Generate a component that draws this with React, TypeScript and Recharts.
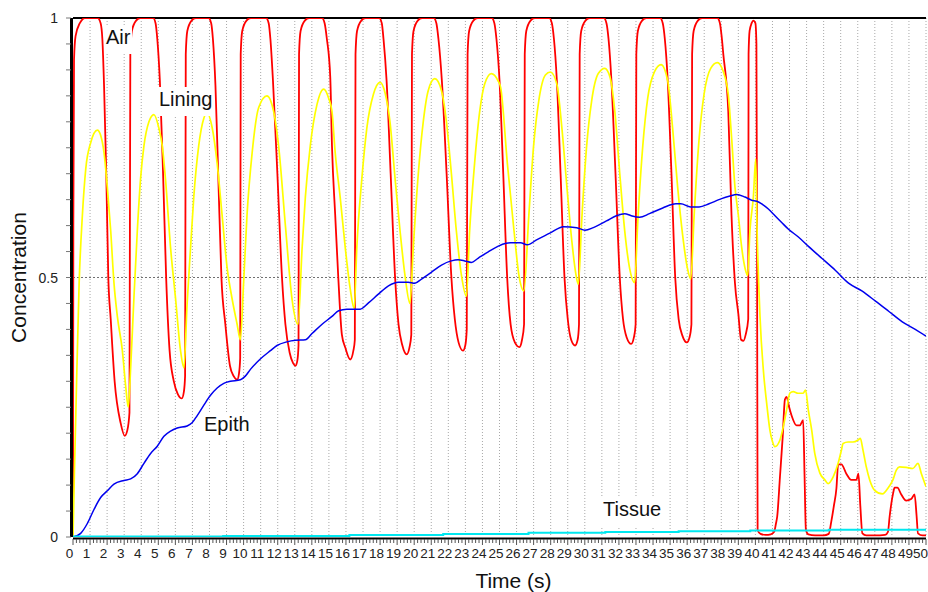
import { LineChart, Line, XAxis, YAxis, CartesianGrid, ReferenceLine } from 'recharts';

// time (s), concentration pairs per compartment
const air: [number, number][] = [
  [0, 0], [0.02, 0.6], [0.06, 0.92], [0.15, 0.965], [0.4, 0.99], [0.7, 1.0], [1.45, 1.0], [1.62, 0.99], [1.72, 0.96], [1.82, 0.87], [1.95, 0.7], [2.07, 0.5], [2.21, 0.42], [2.44, 0.3], [2.79, 0.22], [3.03, 0.195], [3.18, 0.205], [3.31, 0.24],
  [3.36, 0.93], [3.45, 0.975], [3.7, 0.995], [3.95, 1.0], [4.7, 1.0], [4.84, 0.99], [4.94, 0.96], [5.09, 0.88], [5.28, 0.7], [5.46, 0.5], [5.66, 0.36], [5.91, 0.3], [6.15, 0.275], [6.38, 0.267], [6.5, 0.28], [6.57, 0.31],
  [6.61, 0.93], [6.7, 0.975], [6.95, 0.995], [7.2, 1.0], [7.95, 1.0], [8.1, 0.99], [8.2, 0.96], [8.35, 0.87], [8.52, 0.69], [8.7, 0.5], [8.93, 0.41], [9.2, 0.33], [9.42, 0.31], [9.62, 0.303], [9.73, 0.315], [9.8, 0.345],
  [9.83, 0.93], [9.92, 0.975], [10.17, 0.995], [10.42, 1.0], [11.32, 1.0], [11.47, 0.99], [11.57, 0.96], [11.72, 0.88], [11.98, 0.7], [12.25, 0.5], [12.45, 0.41], [12.7, 0.355], [12.9, 0.335], [13.04, 0.33], [13.15, 0.34], [13.22, 0.37],
  [13.25, 0.93], [13.34, 0.975], [13.59, 0.995], [13.84, 1.0], [14.6, 1.0], [14.75, 0.99], [14.88, 0.96], [15.08, 0.886], [15.18, 0.754], [15.37, 0.62], [15.55, 0.5], [15.76, 0.39], [15.96, 0.365], [16.25, 0.342], [16.44, 0.36], [16.52, 0.38],
  [16.56, 0.93], [16.65, 0.975], [16.9, 0.995], [17.15, 1.0], [17.95, 1.0], [18.1, 0.99], [18.2, 0.96], [18.38, 0.88], [18.62, 0.7], [18.88, 0.5], [19.08, 0.41], [19.3, 0.37], [19.56, 0.352], [19.72, 0.365], [19.83, 0.39],
  [19.87, 0.93], [19.96, 0.975], [20.21, 0.995], [20.46, 1.0], [21.15, 1.0], [21.3, 0.99], [21.42, 0.96], [21.62, 0.88], [21.9, 0.7], [22.18, 0.5], [22.38, 0.42], [22.6, 0.375], [22.86, 0.359], [23.0, 0.37], [23.08, 0.4],
  [23.13, 0.93], [23.22, 0.975], [23.47, 0.995], [23.72, 1.0], [24.55, 1.0], [24.7, 0.99], [24.82, 0.96], [25.0, 0.88], [25.22, 0.7], [25.45, 0.5], [25.65, 0.41], [25.9, 0.375], [26.17, 0.366], [26.32, 0.38], [26.44, 0.41],
  [26.48, 0.93], [26.57, 0.975], [26.82, 0.995], [27.07, 1.0], [27.92, 1.0], [28.07, 0.99], [28.19, 0.96], [28.36, 0.88], [28.58, 0.7], [28.81, 0.5], [29.0, 0.42], [29.2, 0.38], [29.43, 0.369], [29.58, 0.38], [29.66, 0.41],
  [29.7, 0.93], [29.79, 0.975], [30.04, 0.995], [30.29, 1.0], [31.12, 1.0], [31.27, 0.99], [31.39, 0.96], [31.56, 0.88], [31.8, 0.7], [32.05, 0.5], [32.24, 0.42], [32.45, 0.385], [32.72, 0.372], [32.88, 0.385], [32.98, 0.41],
  [33.02, 0.93], [33.11, 0.975], [33.36, 0.995], [33.61, 1.0], [34.42, 1.0], [34.57, 0.99], [34.69, 0.96], [34.86, 0.88], [35.08, 0.7], [35.3, 0.5], [35.5, 0.42], [35.72, 0.388], [35.98, 0.375], [36.14, 0.385], [36.25, 0.41],
  [36.29, 0.93], [36.38, 0.975], [36.63, 0.995], [36.88, 1.0], [37.77, 1.0], [37.92, 0.99], [38.02, 0.965], [38.12, 0.93], [38.41, 0.82], [38.6, 0.62], [38.8, 0.49], [39.0, 0.43], [39.16, 0.38], [39.3, 0.378], [39.43, 0.39], [39.58, 0.42],
  [39.6, 0.93], [39.66, 0.975], [39.78, 0.99], [39.88, 0.995], [40.0, 0.99], [40.06, 0.95], [40.1, 0.5], [40.13, 0.013], [40.3, 0.006], [40.6, 0.004], [40.9, 0.005], [41.1, 0.01], [41.2, 0.025], [41.28, 0.04], [41.44, 0.116], [41.6, 0.193], [41.73, 0.265], [41.83, 0.27], [41.98, 0.25], [42.12, 0.234], [42.41, 0.215], [42.6, 0.215], [42.8, 0.225], [42.88, 0.12], [42.96, 0.014], [43.1, 0.005], [43.5, 0.003], [44.0, 0.003], [44.3, 0.006],
  [44.45, 0.03], [44.6, 0.06], [44.75, 0.094], [44.85, 0.14], [45.04, 0.14], [45.33, 0.122], [45.62, 0.11], [45.92, 0.11], [46.04, 0.122], [46.15, 0.06], [46.27, 0.007], [46.5, 0.003], [47.0, 0.003], [47.6, 0.004], [47.77, 0.01],
  [47.87, 0.04], [48.06, 0.082], [48.16, 0.095], [48.32, 0.095], [48.55, 0.082], [48.84, 0.07], [49.13, 0.073], [49.33, 0.082], [49.45, 0.04], [49.53, 0.007], [49.8, 0.003], [50, 0.003],
];

const lining: [number, number][] = [
  [0, 0], [0.08, 0.12], [0.16, 0.23], [0.36, 0.49], [0.55, 0.62], [0.75, 0.71], [1.04, 0.76], [1.43, 0.784], [1.62, 0.774], [1.82, 0.74], [2.01, 0.675], [2.21, 0.59], [2.4, 0.49], [2.6, 0.425], [2.89, 0.36], [3.09, 0.29], [3.24, 0.25],
  [3.38, 0.326], [3.57, 0.46], [3.77, 0.59], [3.96, 0.69], [4.16, 0.754], [4.45, 0.8], [4.74, 0.814], [5.04, 0.787], [5.23, 0.754], [5.42, 0.69], [5.72, 0.557], [6.01, 0.46], [6.3, 0.36], [6.5, 0.326],
  [6.69, 0.45], [6.89, 0.557], [7.08, 0.655], [7.37, 0.754], [7.67, 0.807], [7.86, 0.817], [8.15, 0.79], [8.45, 0.72], [8.74, 0.62], [9.03, 0.52], [9.32, 0.46], [9.62, 0.41], [9.81, 0.38],
  [10.0, 0.49], [10.2, 0.62], [10.5, 0.74], [10.88, 0.827], [11.37, 0.85], [11.76, 0.82], [12.05, 0.754], [12.45, 0.6], [12.84, 0.458], [13.19, 0.41],
  [13.43, 0.557], [13.62, 0.655], [13.91, 0.754], [14.3, 0.833], [14.69, 0.863], [14.98, 0.846], [15.18, 0.82], [15.37, 0.74], [15.66, 0.655], [15.96, 0.557], [16.25, 0.478], [16.48, 0.44],
  [16.64, 0.56], [16.93, 0.69], [17.22, 0.787], [17.61, 0.853], [18.0, 0.876], [18.29, 0.856], [18.58, 0.8], [18.88, 0.69], [19.17, 0.59], [19.46, 0.504], [19.75, 0.45],
  [19.95, 0.56], [20.24, 0.7], [20.53, 0.8], [20.82, 0.86], [21.21, 0.883], [21.6, 0.86], [21.89, 0.8], [22.18, 0.7], [22.47, 0.59], [22.77, 0.504], [23.06, 0.464],
  [23.25, 0.59], [23.54, 0.72], [23.84, 0.82], [24.13, 0.873], [24.52, 0.893], [24.9, 0.88], [25.07, 0.866], [25.46, 0.72], [25.85, 0.59], [26.14, 0.504], [26.43, 0.474],
  [26.72, 0.62], [27.0, 0.754], [27.3, 0.84], [27.69, 0.89], [27.98, 0.896], [28.36, 0.873], [28.66, 0.787], [28.95, 0.675], [29.24, 0.57], [29.49, 0.504], [29.62, 0.487],
  [29.82, 0.61], [30.11, 0.754], [30.4, 0.84], [30.79, 0.893], [31.17, 0.903], [31.47, 0.887], [31.76, 0.82], [32.05, 0.7], [32.34, 0.59], [32.63, 0.517], [32.92, 0.49],
  [33.11, 0.61], [33.4, 0.754], [33.69, 0.846], [34.08, 0.896], [34.47, 0.91], [34.86, 0.879], [35.15, 0.787], [35.44, 0.675], [35.73, 0.583], [36.02, 0.517], [36.21, 0.497],
  [36.41, 0.62], [36.7, 0.767], [36.99, 0.853], [37.38, 0.903], [37.77, 0.914], [38.02, 0.905], [38.22, 0.886], [38.41, 0.853], [38.61, 0.767], [38.8, 0.675], [39.0, 0.62], [39.2, 0.557], [39.4, 0.517], [39.55, 0.504],
  [39.68, 0.59], [39.88, 0.655], [40.02, 0.728], [40.08, 0.62], [40.27, 0.425], [40.47, 0.32], [40.66, 0.258], [40.85, 0.206], [41.0, 0.184], [41.14, 0.174], [41.44, 0.187], [41.63, 0.212], [41.83, 0.245], [42.02, 0.277], [42.22, 0.28], [42.5, 0.277], [42.8, 0.277], [42.94, 0.283],
  [43.1, 0.245], [43.3, 0.206], [43.48, 0.161], [43.78, 0.123], [44.07, 0.11], [44.26, 0.103], [44.56, 0.116], [44.85, 0.142], [45.04, 0.167], [45.14, 0.18], [45.43, 0.183], [45.72, 0.183], [46.02, 0.187], [46.15, 0.19],
  [46.31, 0.167], [46.5, 0.135], [46.7, 0.11], [46.99, 0.09], [47.45, 0.083], [47.77, 0.094], [48.06, 0.11], [48.26, 0.129], [48.45, 0.135], [48.84, 0.134], [49.23, 0.132], [49.53, 0.142], [49.72, 0.123], [50, 0.097],
];

const epith: [number, number][] = [
  [0, 0], [0.45, 0.007], [0.84, 0.026], [1.23, 0.053], [1.62, 0.076], [2.01, 0.089], [2.4, 0.102], [2.99, 0.109], [3.38, 0.112], [3.77, 0.122], [4.16, 0.142], [4.55, 0.161], [4.94, 0.175], [5.33, 0.194], [5.72, 0.204], [6.11, 0.21], [6.69, 0.214], [6.98, 0.22],
  [7.28, 0.234], [7.67, 0.254], [8.06, 0.273], [8.45, 0.287], [8.84, 0.296], [9.23, 0.3], [9.81, 0.303], [10.1, 0.31], [10.4, 0.323], [10.98, 0.343], [11.57, 0.359], [11.96, 0.369], [12.54, 0.376], [13.04, 0.379], [13.62, 0.38], [14.01, 0.392],
  [14.6, 0.41], [15.18, 0.425], [15.57, 0.436], [16.05, 0.439], [16.83, 0.439], [17.32, 0.451], [17.9, 0.468], [18.49, 0.484], [19.07, 0.491], [19.65, 0.491], [20.04, 0.489], [20.43, 0.497], [21.0, 0.51], [21.6, 0.524], [22.18, 0.532], [22.57, 0.534],
  [22.96, 0.532], [23.35, 0.529], [23.74, 0.537], [24.32, 0.549], [24.9, 0.56], [25.39, 0.566], [25.65, 0.567], [26.23, 0.567], [26.62, 0.563], [27.2, 0.573], [27.98, 0.586], [28.75, 0.598], [29.53, 0.596], [30.01, 0.591], [30.5, 0.596], [31.27, 0.609],
  [31.85, 0.619], [32.34, 0.623], [32.72, 0.619], [33.21, 0.616], [33.79, 0.623], [34.57, 0.634], [35.34, 0.642], [35.63, 0.642], [36.21, 0.636], [36.7, 0.636], [37.28, 0.642], [37.86, 0.65], [38.02, 0.652], [38.51, 0.657], [38.9, 0.66], [39.39, 0.655],
  [39.78, 0.649], [40.08, 0.647], [40.37, 0.642], [40.76, 0.632], [41.15, 0.619], [41.54, 0.606], [41.94, 0.593], [42.52, 0.578], [43.11, 0.56], [43.89, 0.537], [44.68, 0.514], [45.46, 0.489], [46.24, 0.474], [47.02, 0.455], [47.81, 0.435], [48.59, 0.415],
  [49.37, 0.4], [50, 0.387],
];

const tissue: [number, number][] = [
  [0, 0.001], [8.8, 0.002], [16.2, 0.004], [21.7, 0.006], [26.7, 0.008], [31.2, 0.0095], [35.5, 0.011], [39.7, 0.0125], [44.3, 0.014], [50, 0.0145],
];

const xMinorTicks = Array.from({ length: 251 }, (_, i) => Math.round(i * 2) / 10);
const xGridLines = Array.from({ length: 50 }, (_, i) => i + 1);
const yMinorTicks = Array.from({ length: 21 }, (_, i) => Math.round(i * 5) / 100);
const yLabelled = [0, 0.5, 1];

const toRows = (pts: [number, number][]) => pts.map(([t, c]) => ({ t, c }));

const FONT = '"Liberation Sans", Arial, sans-serif';

function TimeTick({ x, y, payload }: any) {
  const v = payload.value as number;
  const major = Math.abs(v - Math.round(v)) < 1e-6;
  const last = v >= 50;
  return (
    <g>
      <line x1={x} x2={x} y1={y + 2} y2={y + (major ? 8 : 6)} stroke="#555" strokeWidth={1} />
      {major && (
        <text
          x={last ? x + 2 : x - 3.5}
          y={y + 21}
          textAnchor={last ? 'end' : 'middle'}
          fontSize={13.5}
          fill="#222"
          fontFamily={FONT}
        >
          {Math.round(v)}
        </text>
      )}
    </g>
  );
}

function ConcTick({ x, y, payload }: any) {
  const v = payload.value as number;
  const labelled = yLabelled.some((l) => Math.abs(l - v) < 1e-6);
  return (
    <g>
      <line x1={x - 7} x2={x - 2} y1={y} y2={y} stroke="#777" strokeWidth={1} />
      {labelled && (
        <text x={x - 15} y={y + 5} textAnchor="end" fontSize={14} fill="#222" fontFamily={FONT}>
          {v}
        </text>
      )}
    </g>
  );
}

const tagStyle = (left: number, baseline: number): React.CSSProperties => ({
  position: 'absolute',
  left: left - 2,
  top: baseline - 19,
  padding: '0 2px 5px 2px',
  lineHeight: '24px',
  fontSize: 20,
  fontFamily: FONT,
  background: '#fff',
  color: '#111',
  whiteSpace: 'nowrap',
});

export default function App() {
  return (
    <div style={{ position: 'relative', width: 928, height: 592, background: '#fff' }}>
      <style>{'body{margin:0}'}</style>
      <LineChart width={928} height={592} margin={{ top: 18, right: 2, bottom: 0, left: 0 }}>
        <CartesianGrid horizontal={false} verticalValues={xGridLines} stroke="#a8a8a8" strokeDasharray="1 2" />
        <CartesianGrid vertical={false} horizontalValues={[0.5]} stroke="#707070" strokeDasharray="2 2" />
        <XAxis
          type="number"
          dataKey="t"
          domain={[0, 50]}
          ticks={xMinorTicks}
          interval={0}
          tickSize={0}
          tickMargin={0}
          tickLine={false}
          tick={<TimeTick />}
          height={55}
          axisLine={{ stroke: '#000', strokeWidth: 2, transform: 'translate(0 1.5)' }}
          allowDataOverflow
          label={{ value: 'Time (s)', position: 'insideBottom', offset: 4, dx: 14, style: { fontSize: 21, fill: '#111', fontFamily: FONT } }}
        />
        <YAxis
          type="number"
          domain={[0, 1]}
          ticks={yMinorTicks}
          interval={0}
          tickSize={0}
          tickMargin={0}
          tickLine={false}
          tick={<ConcTick />}
          width={73}
          axisLine={{ stroke: '#000', strokeWidth: 3, transform: 'translate(-1.5 0)' }}
          allowDataOverflow
          label={{ value: 'Concentration', angle: -90, position: 'insideLeft', offset: 19, style: { textAnchor: 'middle', fontSize: 21, fill: '#111', fontFamily: FONT } }}
        />
        <ReferenceLine y={1} stroke="#000" strokeWidth={2} />
        <Line data={toRows(air)} dataKey="c" type="monotone" stroke="#ff0000" strokeWidth={1.8} dot={false} isAnimationActive={false} />
        <Line data={toRows(lining)} dataKey="c" type="monotone" stroke="#ffff00" strokeWidth={1.7} dot={false} isAnimationActive={false} />
        <Line data={toRows(epith)} dataKey="c" type="monotone" stroke="#0000ee" strokeWidth={1.5} dot={false} isAnimationActive={false} />
        <Line data={toRows(tissue)} dataKey="c" type="stepAfter" stroke="#00e8f0" strokeWidth={2} dot={false} isAnimationActive={false} />
      </LineChart>
      <div style={tagStyle(106, 44)}>Air</div>
      <div style={tagStyle(159, 106)}>Lining</div>
      <div style={tagStyle(204, 431)}>Epith</div>
      <div style={tagStyle(603, 516)}>Tissue</div>
    </div>
  );
}
